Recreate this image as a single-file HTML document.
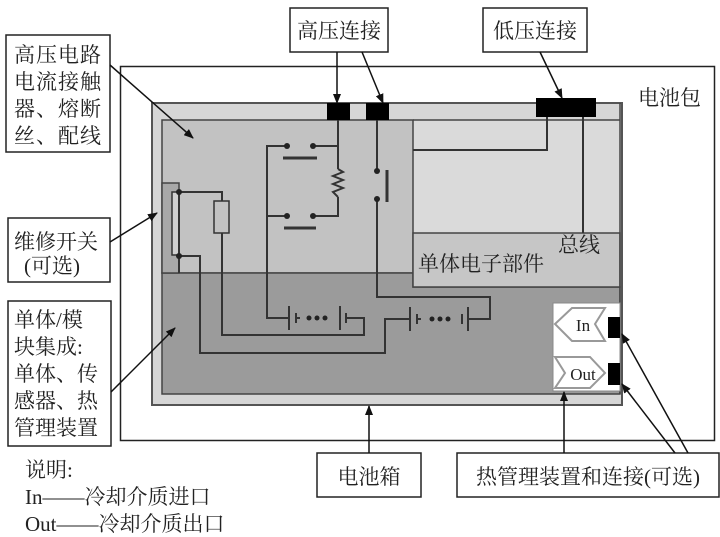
<!DOCTYPE html>
<html><head><meta charset="utf-8"><style>
html,body{margin:0;padding:0;background:#fff;}
svg{display:block;}
text{font-family:"Liberation Serif","Noto Serif CJK SC","Noto Sans CJK SC",serif;fill:#222;}
</style></head><body>
<svg width="720" height="537" viewBox="0 0 720 537" xmlns="http://www.w3.org/2000/svg">
<defs>
<marker id="ah" markerWidth="10" markerHeight="8" refX="9" refY="4" orient="auto" markerUnits="userSpaceOnUse">
<path d="M0,0 L10,4 L0,8 z" fill="#111"/></marker>
</defs>
<rect x="120.5" y="66.5" width="594" height="374" fill="#fff" stroke="#222" stroke-width="1.5"/>
<rect x="152" y="103" width="470" height="302" fill="#d6d6d6" stroke="#555" stroke-width="2"/>
<rect x="413" y="120" width="207" height="113" fill="#dadada"/>
<rect x="162" y="120" width="251" height="153" fill="#c2c2c2" stroke="#444" stroke-width="1.5"/>
<path d="M162,273 L413,273 L413,287 L620,287 L620,394 L162,394 Z" fill="#9b9b9b" stroke="#444" stroke-width="1.5"/>
<rect x="413" y="233" width="207" height="54" fill="#c6c6c6" stroke="#444" stroke-width="1.5"/>
<line x1="413" y1="120" x2="620" y2="120" stroke="#444" stroke-width="1.5"/>
<line x1="620" y1="103" x2="620" y2="394" stroke="#444" stroke-width="1.5"/>
<rect x="553" y="303" width="67" height="88" fill="#fff" stroke="#888" stroke-width="1"/>
<polygon points="555,324 572,308 605,308 595,324 605,341 572,341" fill="#fff" stroke="#999" stroke-width="2"/>
<polygon points="555,357 590,357 605,373 590,388 555,388 565,373" fill="#fff" stroke="#999" stroke-width="2"/>
<text x="583" y="331" font-size="17" text-anchor="middle">In</text>
<text x="583" y="380" font-size="17" text-anchor="middle">Out</text>
<rect x="608" y="317" width="12" height="21" fill="#000"/>
<rect x="608" y="363" width="12" height="22" fill="#000"/>
<rect x="327" y="103" width="23" height="17" fill="#000"/>
<rect x="366" y="103" width="23" height="17" fill="#000"/>
<rect x="536" y="98" width="60" height="19" fill="#000"/>
<rect x="162" y="183" width="17" height="90" fill="#a8a8a8" stroke="#444" stroke-width="1.5"/>
<g fill="none" stroke="#333" stroke-width="2">
<rect x="172" y="192" width="7" height="63" fill="#d0d0d0" stroke="#333" stroke-width="1.5"/>
<line x1="179" y1="192" x2="179" y2="273"/>
<polyline points="179,192 222,192 222,201"/>
<rect x="214" y="201" width="15" height="32" stroke-width="1.5"/>
<polyline points="222,233 222,335 364,335 364,318 347,318"/>
<polyline points="179,256 200,256 200,353 385,353 385,319 410,319"/>
<polyline points="338,120 338,169"/>
<polyline points="338,169 343,172 333,176 343,180 333,184 343,188 333,192 338,197"/>
<polyline points="338,197 338,216 314,216"/>
<line x1="338" y1="146" x2="314" y2="146"/>
<polyline points="287,146 267,146 267,318 289,318"/>
<line x1="267" y1="216" x2="287" y2="216"/>
<line x1="283" y1="158" x2="317" y2="158" stroke-width="3"/>
<line x1="284" y1="228" x2="316" y2="228" stroke-width="3"/>
<line x1="377" y1="120" x2="377" y2="171"/>
<line x1="387" y1="170" x2="387" y2="202" stroke-width="3"/>
<polyline points="377,199 377,297 490,297 490,319 468,319"/>
<polyline points="547,117 547,150 413,150"/>
<line x1="583" y1="117" x2="583" y2="233"/>
<line x1="289" y1="306" x2="289" y2="330"/>
<line x1="296" y1="313" x2="296" y2="323"/>
<line x1="340" y1="306" x2="340" y2="330"/>
<line x1="346" y1="313" x2="346" y2="323"/>
<line x1="296" y1="318" x2="300" y2="318"/>
<line x1="410" y1="307" x2="410" y2="331"/>
<line x1="417" y1="314" x2="417" y2="324"/>
<line x1="462" y1="314" x2="462" y2="324"/>
<line x1="468" y1="307" x2="468" y2="331"/>
<line x1="417" y1="319" x2="421" y2="319"/>
</g>
<g fill="#222">
<circle cx="287" cy="146" r="3"/><circle cx="313" cy="146" r="3"/>
<circle cx="287" cy="216" r="3"/><circle cx="313" cy="216" r="3"/>
<circle cx="377" cy="171" r="3"/><circle cx="377" cy="199" r="3"/>
<circle cx="179" cy="192" r="3"/><circle cx="179" cy="256" r="3"/>
<circle cx="309" cy="318" r="2.5"/><circle cx="317" cy="318" r="2.5"/><circle cx="325" cy="318" r="2.5"/>
<circle cx="432" cy="319" r="2.5"/><circle cx="440" cy="319" r="2.5"/><circle cx="448" cy="319" r="2.5"/>
</g>
<text x="418" y="271" font-size="21">单体电子部件</text>
<text x="558" y="252" font-size="21">总线</text>
<text x="638" y="105" font-size="21">电池包</text>
<g fill="#fff" stroke="#222" stroke-width="1.5">
<rect x="6" y="35" width="104" height="117"/>
<rect x="8" y="218" width="102" height="64"/>
<rect x="8" y="301" width="103" height="145"/>
<rect x="290" y="8" width="98" height="44"/>
<rect x="483" y="8" width="104" height="44"/>
<rect x="317" y="453" width="104" height="44"/>
<rect x="457" y="453" width="262" height="44"/>
</g>
<g font-size="21">
<text x="14" y="62" letter-spacing="1">高压电路</text>
<text x="14" y="89" letter-spacing="1">电流接触</text>
<text x="14" y="116" letter-spacing="1">器、熔断</text>
<text x="14" y="143" letter-spacing="1">丝、配线</text>
<text x="14" y="249">维修开关</text>
<text x="24" y="273">(可选)</text>
<text x="14" y="327">单体/模</text>
<text x="14" y="354">块集成:</text>
<text x="14" y="381">单体、传</text>
<text x="14" y="408">感器、热</text>
<text x="14" y="435">管理装置</text>
<text x="339" y="38" text-anchor="middle">高压连接</text>
<text x="535" y="38" text-anchor="middle">低压连接</text>
<text x="369" y="484" text-anchor="middle">电池箱</text>
<text x="588" y="484" text-anchor="middle">热管理装置和连接(可选)</text>
</g>
<g font-size="21">
<text x="25" y="477">说明:</text>
<text x="25" y="504">In——冷却介质进口</text>
<text x="25" y="531">Out——冷却介质出口</text>
</g>
<g stroke="#111" stroke-width="1.5" fill="none" marker-end="url(#ah)">
<line x1="110" y1="65" x2="193" y2="138"/>
<line x1="110" y1="242" x2="157" y2="213"/>
<line x1="111" y1="392" x2="175" y2="328"/>
<line x1="337" y1="52" x2="337" y2="103"/>
<line x1="362" y1="52" x2="383" y2="103"/>
<line x1="540" y1="52" x2="562" y2="98"/>
<line x1="369" y1="453" x2="369" y2="406"/>
<line x1="564" y1="453" x2="564" y2="392"/>
<line x1="675" y1="453" x2="622" y2="384"/>
<line x1="688" y1="453" x2="622" y2="334"/>
</g>
</svg>
</body></html>
